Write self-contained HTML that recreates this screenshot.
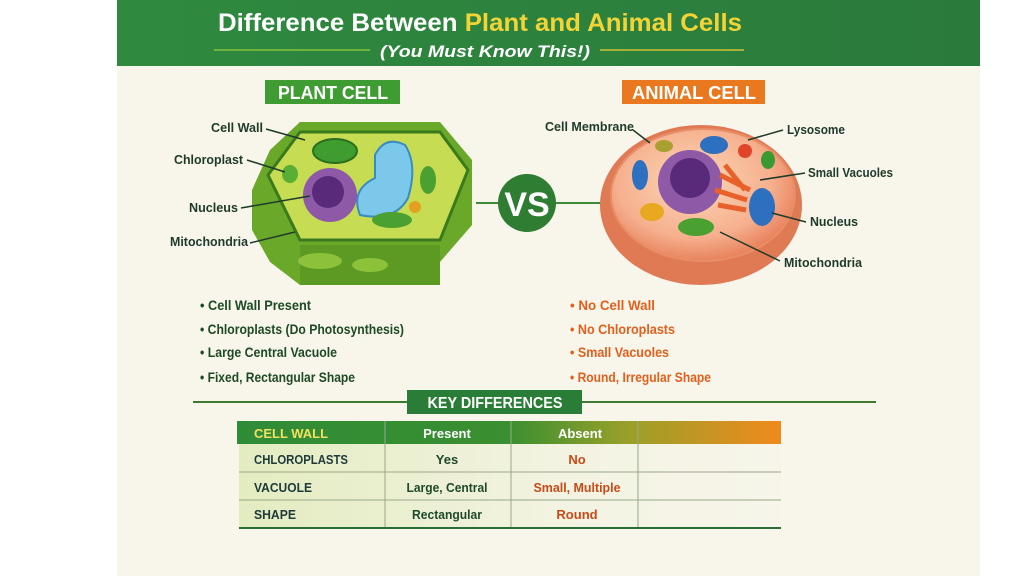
<!DOCTYPE html>
<html><head><meta charset="utf-8"><style>
html,body{margin:0;padding:0;background:#fff;}
svg{display:block}
text{font-family:"Liberation Sans Narrow","Liberation Sans",sans-serif;font-weight:bold}
</style></head><body>
<svg width="1024" height="576" viewBox="0 0 1024 576" xmlns="http://www.w3.org/2000/svg">
<defs>
<linearGradient id="hdr" x1="0" x2="1"><stop offset="0" stop-color="#2f8a3e"/><stop offset="1" stop-color="#2a7a3c"/></linearGradient>
<linearGradient id="th" x1="0" x2="1"><stop offset="0" stop-color="#2f8c36"/><stop offset="0.5" stop-color="#3a8f30"/><stop offset="0.72" stop-color="#9aa02a"/><stop offset="1" stop-color="#f08a1c"/></linearGradient>
<linearGradient id="tb" x1="0" x2="1"><stop offset="0" stop-color="#e3ecc0"/><stop offset="0.6" stop-color="#f3f3e2"/><stop offset="1" stop-color="#f7f5ea"/></linearGradient>
<radialGradient id="an" cx="0.45" cy="0.4" r="0.6"><stop offset="0" stop-color="#fbd8b8"/><stop offset="0.7" stop-color="#f6b08e"/><stop offset="1" stop-color="#e9835e"/></radialGradient>
</defs>
<rect x="117" y="0" width="863" height="576" fill="#f8f5ea"/>
<rect x="117" y="0" width="863" height="66" fill="url(#hdr)"/>
<text x="218" y="31" font-size="25" fill="#fff" textLength="524" lengthAdjust="spacingAndGlyphs">Difference Between <tspan fill="#f3d437">Plant and Animal Cells</tspan></text>
<line x1="214" y1="50" x2="370" y2="50" stroke="#6fb23e" stroke-width="2"/>
<line x1="600" y1="50" x2="744" y2="50" stroke="#a8b03a" stroke-width="2"/>
<text x="380" y="57" font-size="17" font-style="italic" fill="#fff" textLength="210" lengthAdjust="spacingAndGlyphs">(You Must Know This!)</text>

<rect x="265" y="80" width="135" height="24" fill="#3f9c32"/>
<text x="278" y="99" font-size="18" fill="#fff" textLength="110" lengthAdjust="spacingAndGlyphs">PLANT CELL</text>
<rect x="622" y="80" width="143" height="24" fill="#e9781e"/>
<text x="632" y="99" font-size="18" fill="#fff" textLength="124" lengthAdjust="spacingAndGlyphs">ANIMAL CELL</text>

<!-- plant cell -->
<polygon points="252,190 270,150 300,122 440,122 472,160 472,225 440,262 440,285 300,285 270,262 252,230" fill="#6aa82a"/>
<polygon points="300,245 440,245 440,285 300,285" fill="#5c9a24"/>
<polygon points="268,175 300,132 440,132 468,170 440,240 300,240" fill="#c6dc52" stroke="#3b7a1c" stroke-width="3"/>
<ellipse cx="320" cy="261" rx="22" ry="8" fill="#8cc23a"/><ellipse cx="370" cy="265" rx="18" ry="7" fill="#8cc23a"/>
<ellipse cx="335" cy="151" rx="22" ry="12" fill="#3f9c2e" stroke="#2a6e1e" stroke-width="2"/>
<path d="M375,155 Q385,135 405,145 Q418,165 408,198 Q395,222 360,215 Q350,190 375,178 Z" fill="#7cc8ea" stroke="#3a8cc0" stroke-width="2"/>
<circle cx="330" cy="195" r="27" fill="#8e5aa8"/><circle cx="328" cy="192" r="16" fill="#5a2a7a"/>
<ellipse cx="290" cy="174" rx="8" ry="9" fill="#5aae34"/>
<ellipse cx="392" cy="220" rx="20" ry="8" fill="#4aa030"/>
<ellipse cx="428" cy="180" rx="8" ry="14" fill="#4aa030"/>
<circle cx="415" cy="207" r="6" fill="#e4a020"/>
<!-- VS -->
<line x1="476" y1="203" x2="606" y2="203" stroke="#3f8a36" stroke-width="2"/>
<circle cx="527" cy="203" r="29" fill="#2e7d32"/>
<text x="527" y="216" font-size="34" text-anchor="middle" fill="#fff">VS</text>
<!-- animal cell -->
<ellipse cx="701" cy="205" rx="101" ry="80" fill="#e07a55"/>
<ellipse cx="703" cy="195" rx="92" ry="66" fill="url(#an)" stroke="#e88e66" stroke-width="2"/>
<circle cx="690" cy="182" r="32" fill="#8e5aa8"/><circle cx="690" cy="178" r="20" fill="#5a2a7a"/>
<ellipse cx="714" cy="145" rx="14" ry="9" fill="#2e70c0"/>
<circle cx="745" cy="151" r="7" fill="#e0452a"/>
<ellipse cx="768" cy="160" rx="7" ry="9" fill="#3a9a32"/>
<ellipse cx="640" cy="175" rx="8" ry="15" fill="#2e70c0"/>
<ellipse cx="762" cy="207" rx="13" ry="19" fill="#2e70c0"/>
<ellipse cx="652" cy="212" rx="12" ry="9" fill="#e8a820"/>
<ellipse cx="696" cy="227" rx="18" ry="9" fill="#4aa030"/>
<ellipse cx="664" cy="146" rx="9" ry="6" fill="#a8a030"/>
<path d="M720,175 l30,15 M715,190 l32,10 M718,205 l28,5 M725,165 l20,25" stroke="#e8602a" stroke-width="5"/>
<!-- leader lines -->
<g stroke="#1e3a2a" stroke-width="1.5">
<line x1="266" y1="129" x2="305" y2="140"/><line x1="247" y1="160" x2="285" y2="172"/>
<line x1="241" y1="208" x2="310" y2="196"/><line x1="250" y1="243" x2="295" y2="232"/>
<line x1="633" y1="130" x2="650" y2="143"/><line x1="783" y1="130" x2="748" y2="140"/>
<line x1="805" y1="173" x2="760" y2="180"/><line x1="806" y1="222" x2="772" y2="213"/>
<line x1="780" y1="261" x2="720" y2="232"/>
</g>
<g font-size="13" fill="#1e3a2a" lengthAdjust="spacingAndGlyphs">
<text x="211" y="132" textLength="52" lengthAdjust="spacingAndGlyphs">Cell Wall</text>
<text x="174" y="164" textLength="69" lengthAdjust="spacingAndGlyphs">Chloroplast</text>
<text x="189" y="212" textLength="49" lengthAdjust="spacingAndGlyphs">Nucleus</text>
<text x="170" y="246" textLength="78" lengthAdjust="spacingAndGlyphs">Mitochondria</text>
<text x="545" y="131" textLength="89" lengthAdjust="spacingAndGlyphs">Cell Membrane</text>
<text x="787" y="134" textLength="58" lengthAdjust="spacingAndGlyphs">Lysosome</text>
<text x="808" y="177" textLength="85" lengthAdjust="spacingAndGlyphs">Small Vacuoles</text>
<text x="810" y="226" textLength="48" lengthAdjust="spacingAndGlyphs">Nucleus</text>
<text x="784" y="267" textLength="78" lengthAdjust="spacingAndGlyphs">Mitochondria</text>
</g>
<!-- bullets -->
<g font-size="14" fill="#1d4a24">
<text x="200" y="310" textLength="111" lengthAdjust="spacingAndGlyphs">• Cell Wall Present</text>
<text x="200" y="334" textLength="204" lengthAdjust="spacingAndGlyphs">• Chloroplasts (Do Photosynthesis)</text>
<text x="200" y="357" textLength="137" lengthAdjust="spacingAndGlyphs">• Large Central Vacuole</text>
<text x="200" y="382" textLength="155" lengthAdjust="spacingAndGlyphs">• Fixed, Rectangular Shape</text>
</g>
<g font-size="14" fill="#e0601e">
<text x="570" y="310" textLength="85" lengthAdjust="spacingAndGlyphs">• No Cell Wall</text>
<text x="570" y="334" textLength="105" lengthAdjust="spacingAndGlyphs">• No Chloroplasts</text>
<text x="570" y="357" textLength="99" lengthAdjust="spacingAndGlyphs">• Small Vacuoles</text>
<text x="570" y="382" textLength="141" lengthAdjust="spacingAndGlyphs">• Round, Irregular Shape</text>
</g>
<!-- key differences -->
<line x1="193" y1="402" x2="876" y2="402" stroke="#3f7a30" stroke-width="2"/>
<rect x="407" y="390" width="175" height="24" fill="#2a7d36"/>
<text x="495" y="408" font-size="16" text-anchor="middle" fill="#fff" textLength="135" lengthAdjust="spacingAndGlyphs">KEY DIFFERENCES</text>
<rect x="237" y="421" width="544" height="23" fill="url(#th)"/>
<rect x="239" y="444" width="542" height="84" fill="url(#tb)"/>
<g stroke="#9aa88a" stroke-width="1">
<line x1="239" y1="472" x2="781" y2="472"/><line x1="239" y1="500" x2="781" y2="500"/>
<line x1="385" y1="421" x2="385" y2="528"/><line x1="511" y1="421" x2="511" y2="528"/><line x1="638" y1="421" x2="638" y2="528"/>
</g>
<line x1="239" y1="528" x2="781" y2="528" stroke="#2a6e36" stroke-width="2"/>
<g font-size="13">
<text x="254" y="438" fill="#f2e060" textLength="74" lengthAdjust="spacingAndGlyphs">CELL WALL</text>
<text x="447" y="438" fill="#fff" text-anchor="middle" font-weight="normal">Present</text>
<text x="580" y="438" fill="#fff" text-anchor="middle" font-weight="normal">Absent</text>
<text x="254" y="464" fill="#1e3a3a" textLength="94" lengthAdjust="spacingAndGlyphs">CHLOROPLASTS</text>
<text x="254" y="492" fill="#1e3a3a" textLength="58" lengthAdjust="spacingAndGlyphs">VACUOLE</text>
<text x="254" y="519" fill="#1e3a3a" textLength="42" lengthAdjust="spacingAndGlyphs">SHAPE</text>
<text x="447" y="464" fill="#1e4a2a" text-anchor="middle">Yes</text>
<text x="447" y="492" fill="#1e4a2a" text-anchor="middle" textLength="81" lengthAdjust="spacingAndGlyphs">Large, Central</text>
<text x="447" y="519" fill="#1e4a2a" text-anchor="middle" textLength="70" lengthAdjust="spacingAndGlyphs">Rectangular</text>
<text x="577" y="464" fill="#c84a18" text-anchor="middle">No</text>
<text x="577" y="492" fill="#c84a18" text-anchor="middle" textLength="87" lengthAdjust="spacingAndGlyphs">Small, Multiple</text>
<text x="577" y="519" fill="#c84a18" text-anchor="middle">Round</text>
</g>
</svg>
</body></html>
